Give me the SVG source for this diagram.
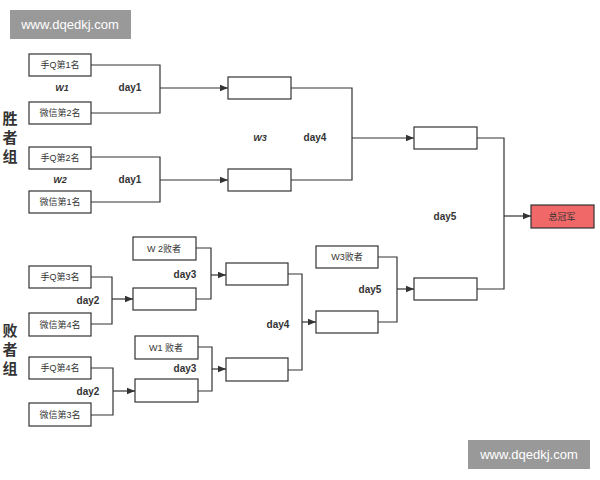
<svg xmlns="http://www.w3.org/2000/svg" width="600" height="480" viewBox="0 0 600 480">
<defs>
<marker id="a" viewBox="0 0 10 10" refX="10" refY="5" markerWidth="8" markerHeight="8" orient="auto" markerUnits="userSpaceOnUse"><path d="M0,1 L10,5 L0,9 z" fill="#333"/></marker>
<style>
.b{fill:#fff;stroke:#333;stroke-width:1.2}
.t{font-family:"Liberation Sans","Noto Sans CJK SC",sans-serif;font-size:9px;fill:#333;text-anchor:middle}
.d{font-family:"Liberation Sans","Noto Sans CJK SC",sans-serif;font-size:10px;font-weight:bold;fill:#333;text-anchor:middle}
.w{font-family:"Liberation Sans",sans-serif;font-size:9px;font-style:italic;font-weight:bold;fill:#333;text-anchor:middle}
.g{font-family:"Noto Sans CJK SC",sans-serif;font-size:15px;font-weight:bold;fill:#333;text-anchor:middle}
.c path{fill:none;stroke:#333;stroke-width:1.2}
.wm{font-family:"Liberation Sans",sans-serif;font-size:13px;fill:#fff;text-anchor:middle}
</style>
</defs>
<rect width="600" height="480" fill="#fff"/>
<g id="watermarks">
<rect x="10" y="10" width="121" height="29" fill="#999"/><text class="wm" x="70" y="29">www.dqedkj.com</text>
<rect x="468" y="440" width="122" height="29" fill="#999"/><text class="wm" x="529" y="459">www.dqedkj.com</text>
</g>
<g id="side"><text class="g" x="10" y="124">胜</text><text class="g" x="10" y="143">者</text><text class="g" x="10" y="162">组</text>
<text class="g" x="10" y="336">败</text><text class="g" x="10" y="355">者</text><text class="g" x="10" y="374">组</text></g>
<g class="c" id="connectors">
<path d="M91,65 H160 V113 H91"/><path d="M160,88 H228" marker-end="url(#a)"/>
<path d="M91,157 H160 V202 H91"/><path d="M160,180 H228" marker-end="url(#a)"/>
<path d="M291,88 H352 V180 H291"/><path d="M352,138 H414" marker-end="url(#a)"/>
<path d="M477,138 H504 V289 H477"/><path d="M504,216 H531" marker-end="url(#a)"/>
<path d="M91,277 H112 V324 H91"/><path d="M112,299 H133" marker-end="url(#a)"/>
<path d="M91,368 H113 V415 H91"/><path d="M113,391 H135" marker-end="url(#a)"/>
<path d="M196,248 H211 V299 H196"/><path d="M211,275 H226" marker-end="url(#a)"/>
<path d="M198,347 H212 V391 H198"/><path d="M212,369 H226" marker-end="url(#a)"/>
<path d="M288,274 H302 V370 H288"/><path d="M302,322 H316" marker-end="url(#a)"/>
<path d="M378,257 H397 V322 H378"/><path d="M397,289 H414" marker-end="url(#a)"/>
</g>
<g id="n1"><rect class="b" x="29" y="54" width="62" height="22"/><text class="t" x="60" y="68">手Q第1名</text></g>
<g id="n2"><rect class="b" x="29" y="102" width="62" height="22"/><text class="t" x="60" y="116">微信第2名</text></g>
<g id="n3"><rect class="b" x="29" y="147" width="62" height="22"/><text class="t" x="60" y="161">手Q第2名</text></g>
<g id="n4"><rect class="b" x="29" y="191" width="62" height="22"/><text class="t" x="60" y="205">微信第1名</text></g>
<g id="n5"><rect class="b" x="228" y="77" width="63" height="22"/></g>
<g id="n6"><rect class="b" x="228" y="169" width="63" height="22"/></g>
<g id="n7"><rect class="b" x="414" y="127" width="63" height="22"/></g>
<g id="n8"><rect x="531" y="205" width="63" height="23" fill="#f06868" stroke="#333" stroke-width="1.2"/><text class="t" x="562" y="220">总冠军</text></g>
<g id="n9"><rect class="b" x="414" y="278" width="63" height="22"/></g>
<g id="n10"><rect class="b" x="316" y="246" width="62" height="22"/><text class="t" x="347" y="260">W3败者</text></g>
<g id="n11"><rect class="b" x="316" y="311" width="62" height="22"/></g>
<g id="n12"><rect class="b" x="29" y="266" width="62" height="22"/><text class="t" x="60" y="280">手Q第3名</text></g>
<g id="n13"><rect class="b" x="29" y="313" width="62" height="23"/><text class="t" x="60" y="328">微信第4名</text></g>
<g id="n14"><rect class="b" x="29" y="357" width="62" height="22"/><text class="t" x="60" y="371">手Q第4名</text></g>
<g id="n15"><rect class="b" x="29" y="403" width="62" height="23"/><text class="t" x="60" y="418">微信第3名</text></g>
<g id="n16"><rect class="b" x="133" y="288" width="63" height="22"/></g>
<g id="n17"><rect class="b" x="133" y="237" width="63" height="23"/><text class="t" x="164" y="252">W 2败者</text></g>
<g id="n18"><rect class="b" x="226" y="263" width="62" height="22"/></g>
<g id="n19"><rect class="b" x="135" y="379" width="63" height="23"/></g>
<g id="n20"><rect class="b" x="135" y="336" width="63" height="23"/><text class="t" x="166" y="351">W1 败者</text></g>
<g id="n21"><rect class="b" x="226" y="358" width="62" height="23"/></g>
<g id="labels">
<text class="w" x="62" y="91">W1</text><text class="d" x="130" y="91">day1</text>
<text class="w" x="60" y="183">W2</text><text class="d" x="130" y="183">day1</text>
<text class="w" x="260" y="141">W3</text><text class="d" x="315" y="141">day4</text>
<text class="d" x="445" y="220">day5</text><text class="d" x="370" y="293">day5</text>
<text class="d" x="88" y="304">day2</text><text class="d" x="185" y="278">day3</text>
<text class="d" x="278" y="328">day4</text><text class="d" x="185" y="372">day3</text>
<text class="d" x="88" y="395">day2</text>
</g>
</svg>
